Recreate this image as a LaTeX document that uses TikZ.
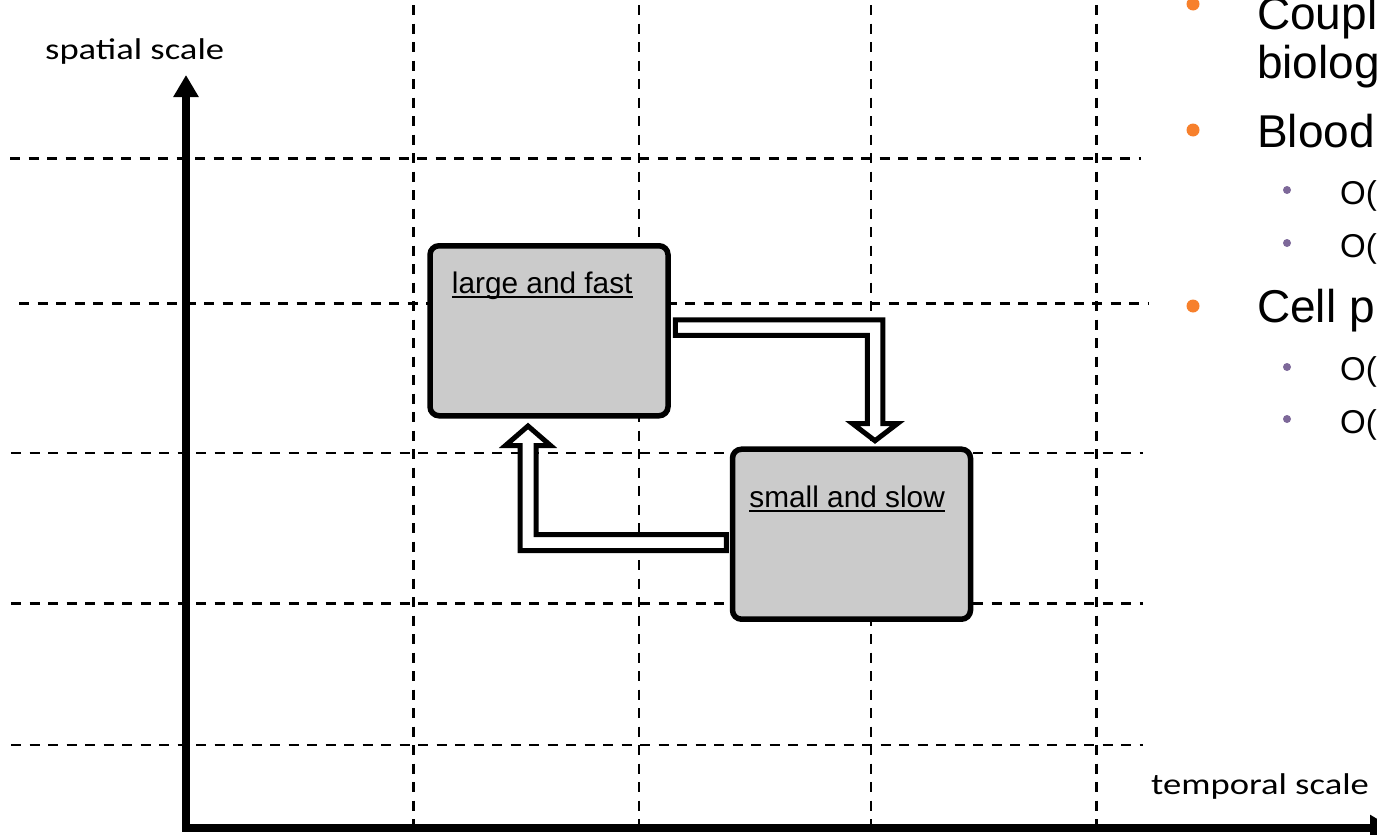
\documentclass[tikz,border=0pt]{standalone}
\usepackage{fontspec}
\setmainfont{Liberation Sans}
\newfontfamily\axisfont[FakeStretch=1.22]{Carlito}
\usetikzlibrary{arrows.meta,calc}
\definecolor{boxgray}{RGB}{203,203,203}
\definecolor{bulletorange}{RGB}{247,128,44}
\definecolor{bulletpurple}{RGB}{125,104,153}
\begin{document}
\begin{tikzpicture}[x=1pt,y=-1pt,
  gridline/.style={line width=2.2pt, dash pattern=on 10pt off 8.5pt},
  scalebox/.style={draw, line width=5.5pt, rounded corners=9pt, fill=boxgray,
    minimum width=238pt, minimum height=170pt, inner sep=0pt},
  boxlabel/.style={anchor=base west, inner sep=0pt, font=\fontsize{29.8}{34}\selectfont},
  uline/.style={line width=2.2pt},
  fatarrow/.style={draw, line width=5pt, fill=white, line join=miter, miter limit=10},
  axis/.style={line width=8pt, line join=miter, <->, >={Triangle[width=24pt,length=22pt]}},
  axislabel/.style={anchor=base west, inner sep=0pt, font=\axisfont\fontsize{30}{34}\selectfont},
  mainbullet/.style={circle, fill=bulletorange, minimum size=13pt, inner sep=0pt},
  subbullet/.style={circle, fill=bulletpurple, minimum size=8pt, inner sep=0pt},
  itemtext/.style={anchor=base west, inner sep=0pt, font=\fontsize{46}{50}\selectfont},
  subtext/.style={anchor=base west, inner sep=0pt, font=\fontsize{33}{38}\selectfont},
]
\useasboundingbox (0,0) rectangle (1377,835);
\clip (0,0) rectangle (1377,835);

% dashed grid
\foreach \y/\xa/\xb in {158.5/10/1141, 303.5/19/1149, 453/11/1143, 603.5/11/1143, 745/11/1143}
  \draw[gridline] (\xa,\y) -- (\xb,\y);
\foreach \x in {413.5, 639, 871, 1096.5}
  \draw[gridline] (\x,5) -- (\x,835);

% axes
\coordinate (ytop) at (186,75);
\coordinate (origin) at (186,827.5);
\coordinate (xend) at (1392,827.5);
\draw[axis] (ytop) -- (origin) -- (xend);
\node[axislabel] (ylab) at (45,59) {spatial scale};
\node[axislabel] (xlab) at (1151,794) {temporal scale};

% the two scale boxes
\node[scalebox] (lf) at (549,330.75) {};
\node[scalebox] (ss) at (851.5,534.2) {};
\node[boxlabel] (lft) at ($(lf.north west)+(24.5,50.7)$) {large and fast};
\node[boxlabel] (sst) at ($(ss.north west)+(19.5,60.6)$) {small and slow};
\draw[uline] ($(lft.base west)+(0,3.6)$) -- ($(lft.base east)+(0,3.6)$);
\draw[uline] ($(sst.base west)+(0,4)$) -- ($(sst.base east)+(0,4)$);

% coupling arrows between the boxes
\coordinate (a1s) at ($(lf.east)+(4.5,-3.25)$);
\coordinate (a1t) at ($(ss.north)+(23.5,-5.7)$);
\draw[fatarrow] ($(a1s)+(0,-7.75)$) -- ($(a1t |- a1s)+(7.75,-7.75)$)
  -- ($(a1t)+(7.75,-17.2)$) -- ($(a1t)+(22.5,-17.2)$) -- (a1t)
  -- ($(a1t)+(-22.5,-17.2)$) -- ($(a1t)+(-7.75,-17.2)$)
  -- ($(a1t |- a1s)+(-7.75,7.75)$) -- ($(a1s)+(0,7.75)$) -- cycle;

\coordinate (a2s) at ($(ss.west)+(-3.5,8.3)$);
\coordinate (a2t) at ($(lf.south)+(-21,7.5)$);
\draw[fatarrow] ($(a2s)+(0,-8)$) -- ($(a2t |- a2s)+(8,-8)$)
  -- ($(a2t)+(8,19.5)$) -- ($(a2t)+(22.5,19.5)$) -- (a2t)
  -- ($(a2t)+(-22.5,19.5)$) -- ($(a2t)+(-8,19.5)$)
  -- ($(a2t |- a2s)+(-8,8)$) -- ($(a2s)+(0,8)$) -- cycle;

% bullet list on the right
\node[mainbullet] (b1) at (1193,4) {};
\node[itemtext] (t1) at (1257,29) {Coupl};
\node[itemtext] (t1b) at (1257,78) {biolog};
\node[mainbullet] (b2) at (1193,130) {};
\node[itemtext] (t2) at (1257,147) {Blood};
\node[subbullet] (b21) at (1287,190) {};
\node[subtext] (t21) at (1340,204) {O(};
\node[subbullet] (b22) at (1287,243) {};
\node[subtext] (t22) at (1340,257) {O(};
\node[mainbullet] (b3) at (1193,306) {};
\node[itemtext] (t3) at (1257,322) {Cell p};
\node[subbullet] (b31) at (1287,367) {};
\node[subtext] (t31) at (1340,380) {O(};
\node[subbullet] (b32) at (1287,419) {};
\node[subtext] (t32) at (1340,433) {O(};
\end{tikzpicture}
\end{document}
